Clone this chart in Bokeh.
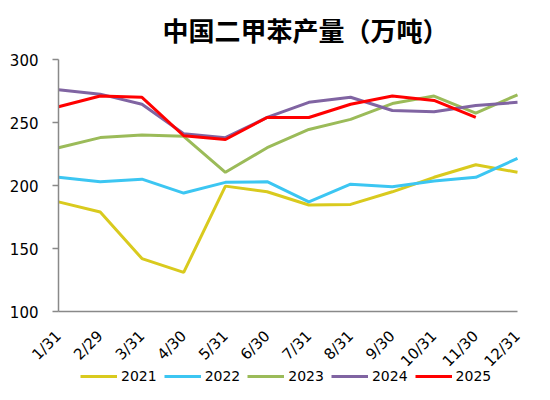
import math
from bokeh.plotting import figure
from bokeh.models import Range1d, FixedTicker, Legend, LegendItem, LinearAxis
from bokeh.embed import file_html
from bokeh.resources import INLINE

# Data
months = ["1/31", "2/29", "3/31", "4/30", "5/31", "6/30",
          "7/31", "8/31", "9/30", "10/31", "11/30", "12/31"]

y2021 = [187, 179, 142, 131, 199.5, 195, 184.5, 185, 195, 206.5, 216.5, 210.5]
y2022 = [206.5, 203, 205, 194, 202.5, 203, 187, 201, 199, 203.5, 206.5, 221.5]
y2023 = [230, 238, 240, 239, 210.5, 230, 244.5, 252.5, 265, 271, 257.5, 272]
y2024 = [276, 272.5, 264.5, 241, 238, 254, 266, 270, 259.5, 258.5, 263.5, 266]
y2025 = [262.5, 271, 270, 239.5, 236.5, 254, 254, 264.5, 271, 267.5, 254]

series = [("2021", y2021, "#D9CA1E"),
          ("2022", y2022, "#3CC6F2"),
          ("2023", y2023, "#9BBB59"),
          ("2024", y2024, "#8064A2"),
          ("2025", y2025, "#FF0000")]

y_min, y_max = 100, 300
n = len(months)

# the frame fills the page below the title; axes are pinned inside it
top = 49
px_y = 252 / (y_max - y_min)
px_x = 459 / (n - 1)
y_range = Range1d(y_min - 89 / px_y, y_max + (59 - top) / px_y)
x_range = Range1d(-58 / px_x, (n - 1) + 33 / px_x)

#Create the figure

p = figure(width=550, height=400, output_backend="svg", toolbar_location=None,
           x_range=x_range, y_range=y_range,
           x_axis_location=None, y_axis_location=None,
           min_border_left=0, min_border_right=0,
           min_border_top=top, min_border_bottom=0)

p.title.text = "中国二甲苯产量（万吨）"
p.title.text_font = "Noto Sans CJK SC"
p.title.text_font_size = "26px"
p.title.text_font_style = "bold"
p.title.align = "left"
p.title.offset = 162
p.title.standoff = 4
p.title.text_color = "#000000"

p.outline_line_color = None
p.xgrid.grid_line_color = None
p.ygrid.grid_line_color = None

#Axes

xaxis = LinearAxis(fixed_location=y_min, bounds=(0, n - 1))
xaxis.ticker = FixedTicker(ticks=list(range(n)))
xaxis.major_label_overrides = {i: m for i, m in enumerate(months)}
xaxis.major_label_orientation = math.pi / 4
xaxis.major_label_standoff = 22
xaxis.major_tick_out = 0
xaxis.major_tick_in = 0
xaxis.minor_tick_out = 0
xaxis.minor_tick_in = 0
p.add_layout(xaxis, "below")

yaxis = LinearAxis(fixed_location=0, bounds=(y_min, y_max))
yaxis.ticker = FixedTicker(ticks=[100, 150, 200, 250, 300])
yaxis.major_label_standoff = 14
yaxis.major_tick_out = 6
yaxis.major_tick_in = 0
yaxis.minor_tick_out = 0
yaxis.minor_tick_in = 0
p.add_layout(yaxis, "left")

for ax in [xaxis, yaxis]:
    ax.axis_line_color = "#898989"
    ax.axis_line_width = 1.5
    ax.major_tick_line_color = "#898989"
    ax.major_tick_line_width = 1.5
    ax.major_label_text_font = "DejaVu Sans"
    ax.major_label_text_font_size = "15px"
    ax.major_label_text_color = "#000000"

#Lines

items = []
for name, vals, color in series:
    r = p.line(list(range(len(vals))), vals, line_color=color, line_width=3)
    items.append(LegendItem(label=name, renderers=[r]))

legend = Legend(items=items, orientation="horizontal", location=(80, 14),
                glyph_width=37, label_standoff=4, spacing=7, padding=2,
                border_line_color=None, background_fill_alpha=0,
                label_text_font="DejaVu Sans", label_text_font_size="14px",
                label_text_color="#000000")
p.add_layout(legend)

open("out.html", "w").write(file_html(p, INLINE))
